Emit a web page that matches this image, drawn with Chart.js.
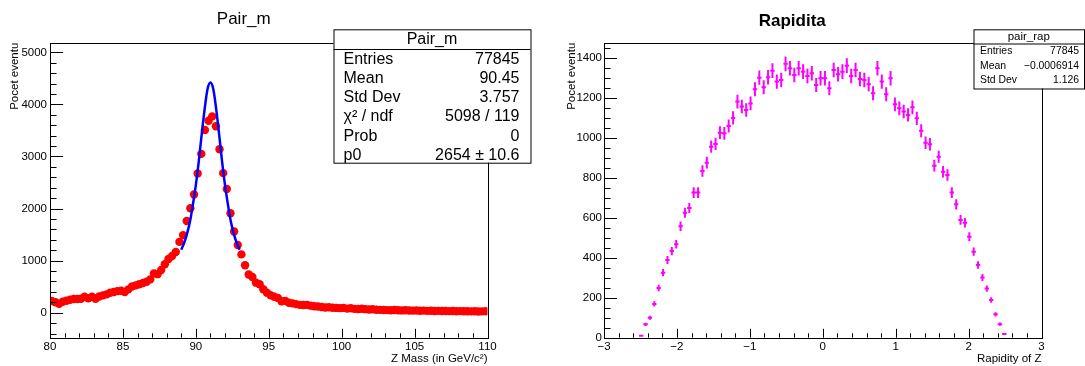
<!DOCTYPE html>
<html>
<head>
<meta charset="utf-8">
<script src="https://cdn.jsdelivr.net/npm/chart.js@4"></script>
<style>
  html, body { margin: 0; padding: 0; background: #fff; }
  #wrap { position: relative; width: 1085px; height: 366px; }
  canvas { position: absolute; top: 0; }
</style>
</head>
<body>
<div id="wrap">
  <canvas id="pairM" width="542" height="366" style="left:0px"></canvas>
  <canvas id="rapidita" width="542" height="366" style="left:543px"></canvas>
</div>
<script>
// Pair_m histogram: 120 bins of 0.25 GeV from 80 to 110
const massRange = [80, 110];
const massBinWidth = 0.25;
const massCounts = [
  225, 200, 170, 210, 230, 250, 262, 262, 268, 305,
  275, 305, 268, 312, 333, 352, 382, 397, 415, 422,
  397, 448, 505, 525, 545, 570, 595, 640, 755, 740,
  820, 930, 1030, 1090, 1165, 1360, 1490, 1760, 2005, 2270,
  2675, 3050, 3510, 3685, 3770, 3580, 3140, 2680, 2375, 1910,
  1560, 1300, 1120, 910, 735, 685, 577, 548, 449, 385,
  335, 307, 284, 220, 228, 192, 180, 165, 150, 148,
  150, 135, 125, 118, 110, 100, 105, 95, 92, 88,
  92, 78, 85, 74, 70, 75, 68, 62, 66, 58,
  55, 52, 50, 48, 52, 46, 44, 47, 42, 40,
  43, 38, 40, 36, 38, 34, 36, 32, 34, 30,
  32, 28, 30, 27, 29, 25, 27, 24, 26, 27
];
const massCenters = massCounts.map((_, i) => massRange[0] + massBinWidth * (i + 0.5));

// fitted curve
const fitMass = [89.0, 89.2, 89.4, 89.6, 89.8, 90.0, 90.2, 90.4, 90.6, 90.8, 91.0,
                 91.2, 91.4, 91.6, 91.8, 92.0, 92.2, 92.4, 92.6, 92.8, 93.0];
const fitCounts = [1210, 1340, 1520, 1750, 2080, 2450, 2900, 3420, 3900, 4290, 4420,
                   4290, 3900, 3420, 2900, 2450, 2080, 1750, 1520, 1340, 1210];

const massXTicks = [80, 85, 90, 95, 100, 105, 110];
const massYTicks = [0, 1000, 2000, 3000, 4000, 5000];

const statsPairM = [
  ['Entries', '77845'],
  ['Mean', '90.45'],
  ['Std Dev', '3.757'],
  ['\u03C7\u00B2 / ndf', '5098 / 119'],
  ['Prob', '0'],
  ['p0', '2654 \u00B1 10.6']
];

// Rapidita histogram: filled bins of 0.06 from -2.52 to 2.52
const rapFirstCenter = -2.49;
const rapBinWidth = 0.06;
const rapCounts = [
  10, 67, 100, 169, 249, 326, 389, 434, 468, 558,
  626, 650, 727, 727, 835, 877, 957, 971, 1027, 1024,
  1061, 1101, 1183, 1158, 1141, 1174, 1245, 1303, 1255, 1305,
  1338, 1283, 1291, 1372, 1350, 1316, 1350, 1333, 1311, 1325,
  1266, 1300, 1300, 1250, 1341, 1320, 1333, 1363, 1311, 1341,
  1296, 1291, 1270, 1225, 1350, 1283, 1220, 1300, 1169, 1149,
  1133, 1116, 1154, 1099, 1037, 977, 969, 862, 907, 832,
  815, 727, 668, 590, 576, 506, 431, 364, 302, 246,
  189, 117, 68, 18
];
const rapCenters = rapCounts.map((_, i) => +(rapFirstCenter + rapBinWidth * i).toFixed(3));

const rapXTicks = [-3, -2, -1, 0, 1, 2, 3];
const rapYTicks = [0, 200, 400, 600, 800, 1000, 1200, 1400];

const statsRap = [
  ['Entries', '77845'],
  ['Mean', '\u22120.0006914'],
  ['Std Dev', '1.126']
];

Chart.defaults.font.family = '"Liberation Sans", Arial, Helvetica, sans-serif';
Chart.defaults.color = '#000';

// ROOT style frame: box round the plot, ticks pointing inwards, stats box on top
const rootFrame = {
  id: 'rootFrame',
  afterDatasetsDraw(chart, args, o) {
    const { ctx, chartArea: a, scales: { x, y } } = chart;
    ctx.save();
    ctx.strokeStyle = '#000';
    ctx.lineWidth = 1;
    ctx.beginPath();
    for (let n = Math.ceil(x.min / o.xMinor - 1e-9); n * o.xMinor <= x.max + 1e-9; n++) {
      const v = n * o.xMinor;
      const px = Math.round(x.getPixelForValue(v)) + 0.5;
      const major = Math.abs(v / o.xMajor - Math.round(v / o.xMajor)) < 1e-6;
      ctx.moveTo(px, a.bottom);
      ctx.lineTo(px, a.bottom - (major ? o.xLen : o.xLen / 2));
    }
    for (let n = Math.ceil(y.min / o.yMinor - 1e-9); n * o.yMinor <= y.max + 1e-9; n++) {
      const v = n * o.yMinor;
      const py = Math.round(y.getPixelForValue(v)) + 0.5;
      const major = Math.abs(v / o.yMajor - Math.round(v / o.yMajor)) < 1e-6;
      ctx.moveTo(a.left, py);
      ctx.lineTo(a.left + (major ? o.yLen : o.yLen / 2), py);
    }
    ctx.stroke();
    ctx.strokeRect(Math.round(a.left) + 0.5, Math.round(a.top) + 0.5,
                   Math.round(a.right - a.left), Math.round(a.bottom - a.top));
    ctx.restore();
  },
  afterDraw(chart, args, o) {
    const s = o.stats;
    if (!s) return;
    const ctx = chart.ctx;
    const fam = Chart.defaults.font.family;
    ctx.save();
    ctx.fillStyle = '#fff';
    ctx.fillRect(s.x1, s.y1, s.x2 - s.x1, s.y2 - s.y1);
    ctx.strokeStyle = '#000';
    ctx.lineWidth = 1;
    ctx.strokeRect(s.x1 + 0.5, s.y1 + 0.5, s.x2 - s.x1, s.y2 - s.y1);
    ctx.beginPath();
    ctx.moveTo(s.x1, s.divY + 0.5);
    ctx.lineTo(s.x2, s.divY + 0.5);
    ctx.stroke();
    ctx.fillStyle = '#000';
    ctx.textBaseline = 'middle';
    ctx.font = s.headSize + 'px ' + fam;
    ctx.textAlign = 'center';
    ctx.fillText(s.header, (s.x1 + s.x2) / 2, s.headY);
    ctx.font = s.rowSize + 'px ' + fam;
    s.rows.forEach((r, i) => {
      const ry = s.rowY + i * s.rowStep;
      ctx.textAlign = 'left';
      ctx.fillText(r[0], s.labelX, ry);
      ctx.textAlign = 'right';
      ctx.fillText(r[1], s.valueX, ry);
    });
    ctx.restore();
  }
};

// vertical error bar sqrt(N) and horizontal bin-width bar
const errorBars = {
  id: 'errorBars',
  afterDatasetsDraw(chart, args, o) {
    if (!o.enabled) return;
    const { ctx, chartArea: a, scales: { x, y } } = chart;
    ctx.save();
    ctx.beginPath();
    ctx.rect(a.left, a.top, a.right - a.left, a.bottom - a.top);
    ctx.clip();
    ctx.strokeStyle = o.color;
    ctx.lineWidth = o.width;
    ctx.beginPath();
    chart.data.datasets[0].data.forEach(p => {
      const px = x.getPixelForValue(p.x);
      const py = y.getPixelForValue(p.y);
      const err = Math.sqrt(p.y);
      ctx.moveTo(px, y.getPixelForValue(p.y - err));
      ctx.lineTo(px, y.getPixelForValue(p.y + err));
      ctx.moveTo(x.getPixelForValue(p.x - o.halfWidth), py);
      ctx.lineTo(x.getPixelForValue(p.x + o.halfWidth), py);
    });
    ctx.stroke();
    ctx.restore();
  }
};

const plainNum = v => (v < 0 ? '\u2212' + (-v) : String(v));
const fixedTicks = list => s => { s.ticks = list.map(v => ({ value: v })); };

new Chart(document.getElementById('pairM'), {
  type: 'scatter',
  data: {
    datasets: [
      {
        label: 'fit',
        data: fitMass.map((m, i) => ({ x: m, y: fitCounts[i] })),
        showLine: true,
        borderColor: '#0000ff',
        borderWidth: 2.5,
        pointRadius: 0,
        cubicInterpolationMode: 'monotone',
        order: 0
      },
      {
        label: 'Pair_m',
        data: massCenters.map((m, i) => ({ x: m, y: massCounts[i] })),
        pointBackgroundColor: '#ff0000',
        pointBorderWidth: 0,
        pointRadius: 4.2,
        order: 1
      }
    ]
  },
  options: {
    responsive: false,
    animation: false,
    devicePixelRatio: 1,
    layout: { padding: { left: 0, right: 54.5, top: 0, bottom: 0 } },
    plugins: {
      legend: { display: false },
      tooltip: { enabled: false },
      title: {
        display: true, text: 'Pair_m',
        font: { size: 17, weight: 'normal' },
        padding: { top: 9.3, bottom: 13 }
      },
      rootFrame: { xMinor: 1, xMajor: 5, xLen: 8.9, yMinor: 200, yMajor: 1000, yLen: 13.1,
        stats: { x1: 333.5, x2: 530.5, y1: 29.3, y2: 162.7, divY: 49, header: 'Pair_m',
                 headSize: 16, headY: 39.3, rowSize: 16, rowY: 59.3, rowStep: 19.2,
                 labelX: 343.5, valueX: 519.5, rows: statsPairM } }
    },
    scales: {
      x: {
        type: 'linear', min: massRange[0], max: massRange[1],
        afterBuildTicks: fixedTicks(massXTicks),
        afterFit: s => { s.height = 28.3; },
        grid: { display: false, drawTicks: false },
        border: { display: false },
        ticks: { padding: 2, maxRotation: 0, autoSkip: false, font: { size: 11.5 }, callback: plainNum },
        title: { display: true, text: 'Z Mass (in GeV/c\u00B2)', align: 'end', font: { size: 11.5 }, padding: { top: 0, bottom: 0 } }
      },
      y: {
        type: 'linear', min: -480, max: 5185,
        afterBuildTicks: fixedTicks(massYTicks),
        afterFit: s => { s.width = 50; },
        grid: { display: false, drawTicks: false },
        border: { display: false },
        ticks: { padding: 3, autoSkip: false, font: { size: 11.5 }, callback: plainNum },
        title: { display: true, text: 'Pocet eventu', align: 'end', font: { size: 11.5 }, padding: { top: 7.6, bottom: 0 } }
      }
    }
  },
  plugins: [rootFrame]
});

new Chart(document.getElementById('rapidita'), {
  type: 'scatter',
  data: {
    datasets: [
      {
        label: 'pair_rap',
        data: rapCenters.map((c, i) => ({ x: c, y: rapCounts[i] })),
        pointRadius: 0
      }
    ]
  },
  options: {
    responsive: false,
    animation: false,
    devicePixelRatio: 1,
    layout: { padding: { left: 0, right: 43.5, top: 0, bottom: 0 } },
    plugins: {
      legend: { display: false },
      tooltip: { enabled: false },
      title: {
        display: true, text: 'Rapidita',
        font: { size: 17, weight: 'bold' },
        padding: { top: 10.8, bottom: 11.5 }
      },
      errorBars: { enabled: true, color: '#ff00ff', width: 2, halfWidth: rapBinWidth / 2 },
      rootFrame: { xMinor: 0.2, xMajor: 1, xLen: 8.9, yMinor: 50, yMajor: 200, yLen: 13.1,
        stats: { x1: 430.5, x2: 541, y1: 29.3, y2: 88.5, divY: 43.5, header: 'pair_rap',
                 headSize: 11.5, headY: 36.5, rowSize: 10.4, rowY: 51.3, rowStep: 14.6,
                 labelX: 437, valueX: 536, rows: statsRap } }
    },
    scales: {
      x: {
        type: 'linear', min: -3, max: 3,
        afterBuildTicks: fixedTicks(rapXTicks),
        afterFit: s => { s.height = 28.3; },
        grid: { display: false, drawTicks: false },
        border: { display: false },
        ticks: { padding: 2, maxRotation: 0, autoSkip: false, font: { size: 11.5 }, callback: plainNum },
        title: { display: true, text: 'Rapidity of Z', align: 'end', font: { size: 11.5 }, padding: { top: 0, bottom: 0 } }
      },
      y: {
        type: 'linear', min: 0, max: 1478,
        afterBuildTicks: fixedTicks(rapYTicks),
        afterFit: s => { s.width = 61; },
        grid: { display: false, drawTicks: false },
        border: { display: false },
        ticks: { padding: 2, autoSkip: false, font: { size: 11.5 }, callback: plainNum },
        title: { display: true, text: 'Pocet eventu', align: 'end', font: { size: 11.5 }, padding: { top: 22.1, bottom: 0 } }
      }
    }
  },
  plugins: [rootFrame, errorBars]
});
</script>
</body>
</html>
